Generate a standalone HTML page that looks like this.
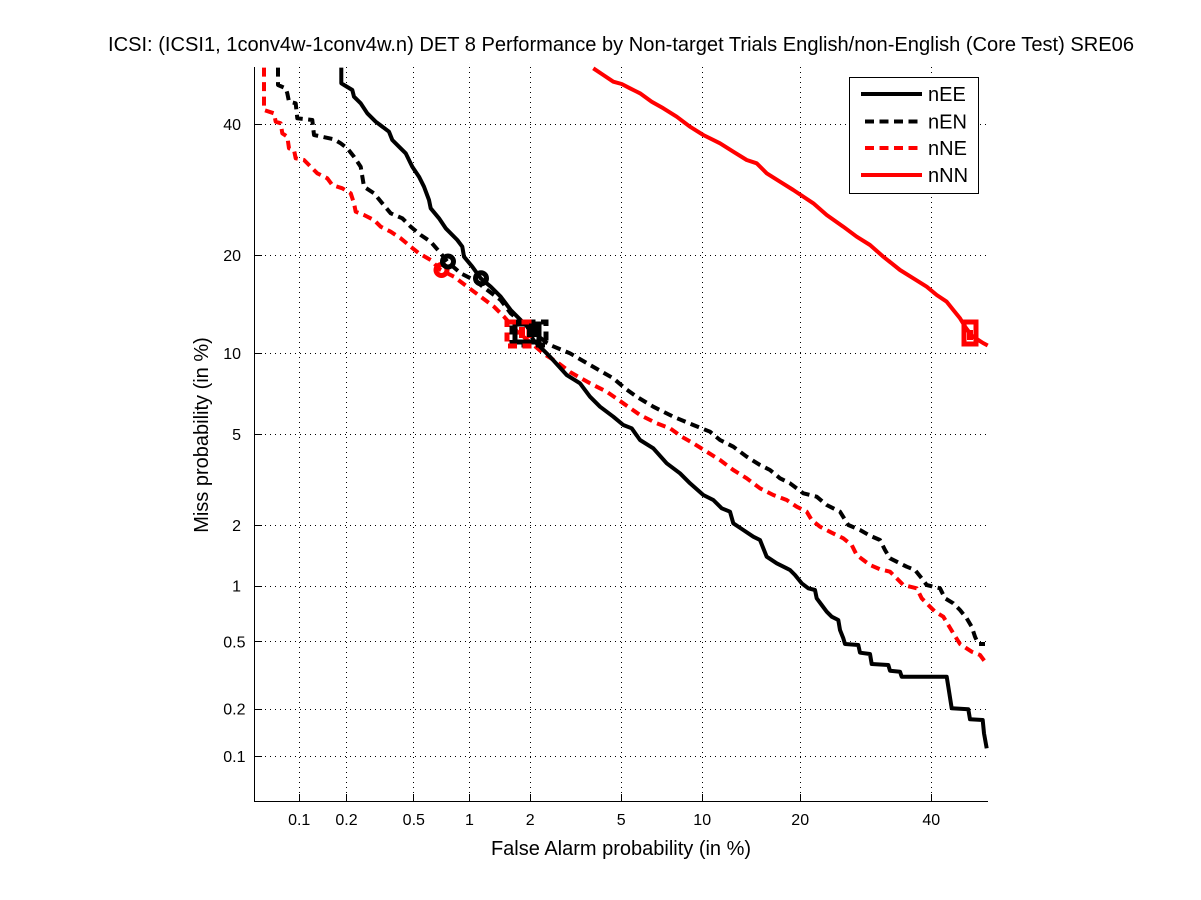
<!DOCTYPE html>
<html><head><meta charset="utf-8"><style>
html,body{margin:0;padding:0;background:#fff;}
svg{display:block;}
text{font-family:"Liberation Sans",Arial,sans-serif;fill:#000;}
</style></head><body>
<svg width="1201" height="900" viewBox="0 0 1201 900" xmlns="http://www.w3.org/2000/svg">
<rect x="0" y="0" width="1201" height="900" fill="#fff"/>
<!-- title -->
<text x="621" y="51" font-size="20" text-anchor="middle" textLength="1026" lengthAdjust="spacingAndGlyphs">ICSI: (ICSI1, 1conv4w-1conv4w.n) DET 8 Performance by Non-target Trials English/non-English (Core Test) SRE06</text>
<!-- grid -->
<g stroke="#000" stroke-width="1" stroke-dasharray="1 4" fill="none" shape-rendering="crispEdges">
<line x1="299.5" y1="67" x2="299.5" y2="801"/>
<line x1="346.5" y1="67" x2="346.5" y2="801"/>
<line x1="413.5" y1="67" x2="413.5" y2="801"/>
<line x1="469.5" y1="67" x2="469.5" y2="801"/>
<line x1="530.5" y1="67" x2="530.5" y2="801"/>
<line x1="621.5" y1="67" x2="621.5" y2="801"/>
<line x1="702.5" y1="67" x2="702.5" y2="801"/>
<line x1="800.5" y1="67" x2="800.5" y2="801"/>
<line x1="931.5" y1="67" x2="931.5" y2="801"/>
<line x1="255" y1="124.5" x2="988" y2="124.5"/>
<line x1="255" y1="255.5" x2="988" y2="255.5"/>
<line x1="255" y1="353.5" x2="988" y2="353.5"/>
<line x1="255" y1="434.5" x2="988" y2="434.5"/>
<line x1="255" y1="525.5" x2="988" y2="525.5"/>
<line x1="255" y1="586.5" x2="988" y2="586.5"/>
<line x1="255" y1="641.5" x2="988" y2="641.5"/>
<line x1="255" y1="709.5" x2="988" y2="709.5"/>
<line x1="255" y1="756.5" x2="988" y2="756.5"/>
</g>
<!-- axes -->
<g stroke="#000" stroke-width="1" fill="none" shape-rendering="crispEdges">
<line x1="254.5" y1="67" x2="254.5" y2="802"/>
<line x1="254" y1="801.5" x2="988" y2="801.5"/>
<line x1="299.5" y1="801.5" x2="299.5" y2="794"/>
<line x1="346.5" y1="801.5" x2="346.5" y2="794"/>
<line x1="413.5" y1="801.5" x2="413.5" y2="794"/>
<line x1="469.5" y1="801.5" x2="469.5" y2="794"/>
<line x1="530.5" y1="801.5" x2="530.5" y2="794"/>
<line x1="621.5" y1="801.5" x2="621.5" y2="794"/>
<line x1="702.5" y1="801.5" x2="702.5" y2="794"/>
<line x1="800.5" y1="801.5" x2="800.5" y2="794"/>
<line x1="931.5" y1="801.5" x2="931.5" y2="794"/>
<line x1="254.5" y1="124.5" x2="262" y2="124.5"/>
<line x1="254.5" y1="255.5" x2="262" y2="255.5"/>
<line x1="254.5" y1="353.5" x2="262" y2="353.5"/>
<line x1="254.5" y1="434.5" x2="262" y2="434.5"/>
<line x1="254.5" y1="525.5" x2="262" y2="525.5"/>
<line x1="254.5" y1="586.5" x2="262" y2="586.5"/>
<line x1="254.5" y1="641.5" x2="262" y2="641.5"/>
<line x1="254.5" y1="709.5" x2="262" y2="709.5"/>
<line x1="254.5" y1="756.5" x2="262" y2="756.5"/>
</g>
<!-- x tick labels -->
<g font-size="16" text-anchor="middle">
<text x="299.2" y="825">0.1</text>
<text x="346.5" y="825">0.2</text>
<text x="413.8" y="825">0.5</text>
<text x="469.4" y="825">1</text>
<text x="530.2" y="825">2</text>
<text x="621.2" y="825">5</text>
<text x="702.2" y="825">10</text>
<text x="800.2" y="825">20</text>
<text x="931.3" y="825">40</text>
</g>
<!-- y tick labels -->
<g font-size="16" text-anchor="end">
<text x="241" y="129.8">40</text>
<text x="241" y="260.9">20</text>
<text x="241" y="358.9">10</text>
<text x="241" y="439.9">5</text>
<text x="241" y="531">2</text>
<text x="241" y="591.7">1</text>
<text x="245.5" y="647.3">0.5</text>
<text x="245.5" y="714.7">0.2</text>
<text x="245.5" y="761.9">0.1</text>
</g>
<!-- axis labels -->
<text x="621" y="855" font-size="20" text-anchor="middle">False Alarm probability (in %)</text>
<text transform="translate(208,435) rotate(-90)" x="0" y="0" font-size="20" text-anchor="middle">Miss probability (in %)</text>

<!-- curves -->
<g fill="none" stroke-width="4" stroke-linejoin="round">
<polyline stroke="#ff0000" points="593.3,68.3 603.3,75 613.3,81.7 621.7,84 630,88.3 640,93.3 651.7,101.7 663.3,108.3 676.7,116.7 690,126.7 703.3,135 720,143.3 733.3,151.7 746.7,160 756.7,163.3 766.7,173.3 780,181.7 793.3,190 813.3,203.3 826.7,215 843.3,226.7 856.7,236.7 870,245 883.3,256.7 900,270 913.3,278.3 926.7,286.7 936.7,295 946.7,301.7 953.3,310 960,318.3 966,328 972,336 978.3,340 983,343 987.7,345.5"/>
<polyline stroke="#ff0000" stroke-dasharray="9 5.5" points="264,67.6 264,110 274,113.3 275.7,121.7 280.7,123.3 282.3,133.3 287.3,136.7 289,148.3 294,150 295.7,158.3 304,160 310.7,166.7 317.3,173.3 327.3,178.3 332.3,185 342.3,188.3 350.7,193.3 354,203.3 355.7,211.7 364,215 374,220 380.7,226.7 390.7,231.7 400.7,238.3 410.7,246.7 419,253.3 430.7,260 440.7,270 454,276.7 467.3,286.7 480.7,296.7 494,306.7 504,316.7 517.3,331.7 530,342 544,354 557,362 570,372 590,383.3 606.7,391.7 623.3,403.3 640,415 656.7,423.3 670,428.3 681.7,436.7 693.3,443.3 706.7,451.7 720,460 733.3,470 746.7,478.3 760,488.3 773.3,495 786.7,500 796.7,506.7 806.7,511.7 811.7,520 820,526.7 831.7,532.7 843.3,538.3 851.7,545 856.7,555 863.3,560 870,565 880,569.3 890,571.7 896.7,578.3 903.3,585 916.7,588.3 921.7,598.3 928.3,605 935,611.7 943.3,616.7 948.3,625 953.3,633.3 960,644 971.7,651.7 980,655 985,661.7 987.7,663.5"/>
<polyline stroke="#000" stroke-dasharray="9 5.5" points="278,67.6 278,85 285.7,88.3 287.3,93.3 289,101.7 295.7,103.3 297.3,118.3 312.3,120 314,135 334,139.3 340.7,143.3 347.3,148.3 354,156.7 360.7,166.7 364,186.7 374,193.3 382.3,203.3 390.7,213.3 402.3,218.3 410.7,226.7 420.7,235 430.7,241.7 440.7,253.3 447.3,261.7 460.7,273.3 474,280 487.3,290 500.7,300 510.7,313.3 530.7,330 547.3,343.3 550,345 570,353.3 590,365 613.3,378.3 625,388.3 636.7,396.7 653.3,406.7 673.3,416.7 693.3,425 710,431.7 720,440 733.3,446.7 746.7,456.7 760,465 770,470 780,478.3 790,483.3 803.3,493.3 816.7,496.7 826.7,505 840,511.7 848.3,525 860,530 870,535.7 880,540 885,550 890,558.3 896.7,561.7 906.7,566.7 915,570 921.7,578.3 926.7,585 940,588.3 945,598.3 953.3,603.3 960,610 966.7,618.3 971.7,626.7 975,636.7 978.3,644 985,644"/>
<polyline stroke="#000" points="341.3,67.6 341.3,83.3 345.7,86 352.3,90 354,96.7 360.7,103.3 367.3,113.3 375.7,121.7 389,131.7 392.3,140 399,146.7 405.7,153.3 412.3,166.7 419,176.7 424,186.7 429,200 430.7,208.3 439,218.3 445.7,228.3 457.3,240 462.3,246.7 464,256.7 472.3,266.7 480.7,278.3 490.7,286.7 500.7,296.7 510.7,310 517.3,316.7 527.3,326.7 533.3,340 550,356.7 566.7,375 580,383.3 590,396.7 600,406.7 613.3,416.7 623.3,425 631.7,428.3 640,440 653.3,448.3 666.7,463.3 680,473.3 690,483.3 703.3,495 713.3,500 721.7,508.3 730,511.7 733.3,523.3 743.3,530 753.3,536.7 760,540 766.7,556.7 776.7,563.3 786.7,568.3 790,570 795,575 801.7,583.3 808.3,588.3 815,590 816.7,598.3 821.7,605 826.7,611.7 831.7,616.7 838.3,620 840,630 843.3,638.3 845,644 858.3,645 860,652.7 870,654 871.7,664 888.3,665 890,670.7 900,671.7 901.7,676.7 946.7,676.7 948.3,686.7 951.7,708.3 968.3,709.3 970,719.3 982.7,720 984,733.3 986.7,748.3"/>
</g>

<!-- markers -->
<g fill="none" stroke-width="5">
<circle cx="441.5" cy="270" r="5.5" stroke="#ff0000"/>
<circle cx="448" cy="261.5" r="5.5" stroke="#000"/>
<circle cx="481" cy="278.3" r="5.5" stroke="#000"/>
<rect x="512" y="322" width="34" height="23" stroke="#000" stroke-dasharray="9 5.5"/>
<rect x="515" y="324" width="24" height="18" stroke="#000"/>
<rect x="507" y="322" width="22" height="24" stroke="#ff0000" stroke-dasharray="9 5.5"/>
<rect x="964" y="322" width="12" height="22" stroke="#ff0000"/>
</g>
<rect x="519" y="327" width="6" height="11" fill="#ff0000"/>
<rect x="527" y="326" width="10" height="11" fill="#000"/>
<rect x="967" y="330" width="6" height="10" fill="#ff0000"/>

<!-- legend -->
<rect x="849.5" y="77.5" width="129" height="116" fill="#fff" stroke="#000" stroke-width="1" shape-rendering="crispEdges"/>
<g stroke-width="4">
<line x1="861" y1="94" x2="922" y2="94" stroke="#000"/>
<line x1="865" y1="121.5" x2="922" y2="121.5" stroke="#000" stroke-dasharray="9 5.5"/>
<line x1="865" y1="148" x2="922" y2="148" stroke="#ff0000" stroke-dasharray="9 5.5"/>
<line x1="861" y1="175" x2="922" y2="175" stroke="#ff0000"/>
</g>
<g font-size="20">
<text x="928" y="101">nEE</text>
<text x="928" y="128.5">nEN</text>
<text x="928" y="155">nNE</text>
<text x="928" y="182">nNN</text>
</g>
</svg>
</body></html>
